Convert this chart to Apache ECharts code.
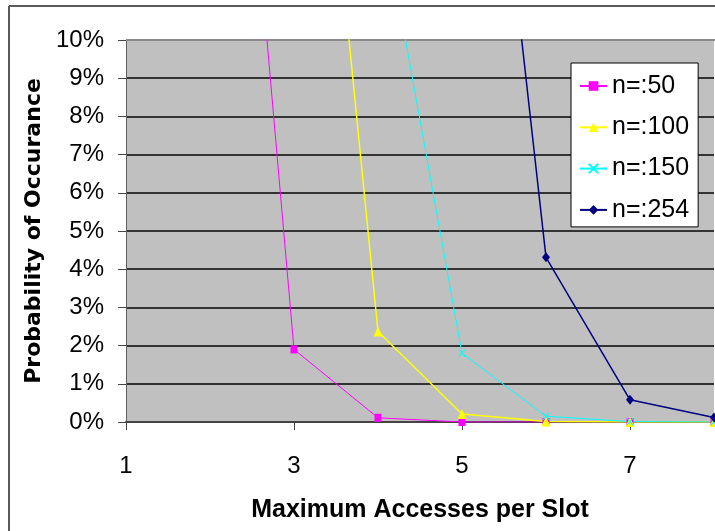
<!DOCTYPE html>
<html>
<head>
<meta charset="utf-8">
<script src="https://cdn.jsdelivr.net/npm/echarts@6/dist/echarts.min.js"></script>
<style>
  html, body { margin: 0; padding: 0; background: #ffffff; }
  #chart { width: 715px; height: 531px; }
</style>
</head>
<body>
<div id="chart"></div>
<script>
// Maximum accesses per slot (x) and probability of occurrence in percent (y)
const accesses = [2, 3, 4, 5, 6, 7, 8];
const n50  = [27.1, 1.9, 0.11, 0.0, 0.0, 0.0, 0.0];
const n100 = [null, 24.5, 2.37, 0.21, 0.01, 0.0, 0.0];
const n150 = [null, null, 14.0, 1.80, 0.15, 0.01, 0.0];
const n254 = [null, null, null, 24.0, 4.31, 0.58, 0.12];
const seriesNames = ['n=:50', 'n=:100', 'n=:150', 'n=:254'];
const xTickLabels = ['1', '3', '5', '7'];

const regular = '"Liberation Sans", Arial, sans-serif';

function pairs(values) {
  return accesses.map((x, i) => [x, values[i]]);
}

const crossPath = 'path://M0,0L10,10M10,0L0,10';

const chart = echarts.init(document.getElementById('chart'), null, { renderer: 'canvas' });

chart.setOption({
  animation: false,
  backgroundColor: '#ffffff',
  grid: {
    left: 126, top: 40, right: 1, bottom: 109,
    show: true, backgroundColor: '#C0C0C0', borderWidth: 0
  },
  legend: {
    left: 571, top: 63,
    orient: 'vertical',
    backgroundColor: '#ffffff',
    borderColor: '#000000',
    borderWidth: 1,
    padding: [10, 9, 4, 8],
    itemGap: 15.3,
    itemWidth: 27,
    itemHeight: 12,
    textStyle: { fontFamily: regular, fontSize: 25, color: '#000000', lineHeight: 26 },
    data: seriesNames
  },
  xAxis: {
    type: 'value',
    min: 1, max: 8, interval: 2,
    name: 'Maximum Accesses per Slot',
    nameLocation: 'middle',
    nameGap: 76,
    nameTextStyle: { fontFamily: regular, fontWeight: 'bold', fontSize: 25, color: '#000000' },
    axisLine: { show: true, lineStyle: { color: '#444444', width: 2 } },
    axisTick: { show: true, length: 8, lineStyle: { color: '#444444', width: 1 } },
    axisLabel: {
      showMaxLabel: false,
      margin: 32,
      fontFamily: regular, fontSize: 24, color: '#000000',
      formatter: v => (xTickLabels.indexOf(String(v)) >= 0 ? String(v) : '')
    },
    splitLine: { show: false }
  },
  yAxis: {
    type: 'value',
    min: 0, max: 10, interval: 1,
    name: 'Probability of Occurance',
    nameLocation: 'middle',
    nameGap: 77,
    nameRotate: 90,
    nameTextStyle: { fontFamily: '"DejaVu Sans", sans-serif', fontWeight: 'bold', fontSize: 22, color: '#000000' },
    axisLine: { show: true, lineStyle: { color: '#606060', width: 1 } },
    axisTick: { show: true, length: 8, lineStyle: { color: '#444444', width: 1 } },
    axisLabel: {
      margin: 22,
      fontFamily: regular, fontSize: 24, color: '#000000',
      formatter: '{value}%'
    },
    splitLine: { show: true, lineStyle: { color: '#333333', width: 2 } }
  },
  series: [
    {
      name: seriesNames[0], type: 'line', data: pairs(n50), clip: true,
      symbol: 'rect', symbolSize: [7, 8],
      lineStyle: { color: '#FF00FF', width: 1 },
      itemStyle: { color: '#FF00FF' }
    },
    {
      name: seriesNames[1], type: 'line', data: pairs(n100), clip: true,
      symbol: 'triangle', symbolSize: [9, 10],
      lineStyle: { color: '#FFFF00', width: 1.5 },
      itemStyle: { color: '#FFFF00' }
    },
    {
      name: seriesNames[2], type: 'line', data: pairs(n150), clip: true,
      symbol: crossPath, symbolSize: [6, 7],
      lineStyle: { color: '#00FFFF', width: 1 },
      itemStyle: { color: '#00FFFF', borderColor: '#00FFFF', borderWidth: 1 }
    },
    {
      name: seriesNames[3], type: 'line', data: pairs(n254), clip: true,
      symbol: 'diamond', symbolSize: [8, 10],
      lineStyle: { color: '#000080', width: 1.5 },
      itemStyle: { color: '#000080' }
    }
  ],
  graphic: [
    // lighter top edge of the plot area
    { type: 'line', shape: { x1: 126, y1: 40, x2: 715, y2: 40 }, style: { stroke: '#8a8a8a', lineWidth: 2 }, z: 1 },
    // outer chart frame (top and left edges)
    { type: 'line', shape: { x1: 9, y1: 6, x2: 715, y2: 6 }, style: { stroke: '#5a5a5a', lineWidth: 2 }, z: 100 },
    { type: 'line', shape: { x1: 9, y1: 6, x2: 9, y2: 531 }, style: { stroke: '#5a5a5a', lineWidth: 2 }, z: 100 }
  ]
});
</script>
</body>
</html>
